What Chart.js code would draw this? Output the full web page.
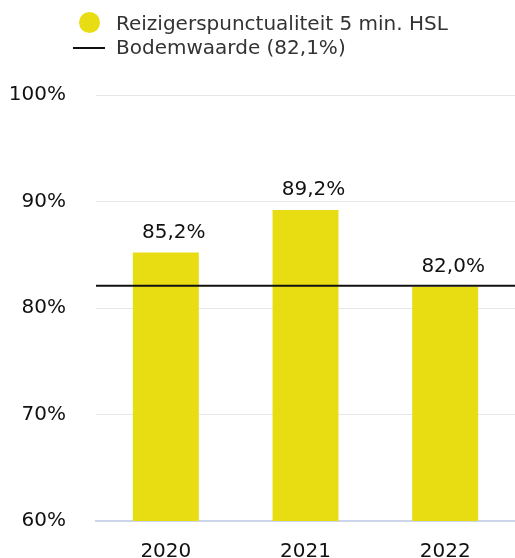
<!DOCTYPE html>
<html><head><meta charset="utf-8">
<script src="https://cdn.jsdelivr.net/npm/chart.js@4.4.0/dist/chart.umd.min.js"></script>
<style>
html,body{margin:0;padding:0;background:#fff;overflow:hidden;}
#wrap{position:relative;width:515px;height:558px;overflow:hidden;}
#c{position:absolute;left:0;top:0;}
.row{position:absolute;left:116px;font-family:"DejaVu Sans";font-size:20px;line-height:24px;color:#333;white-space:nowrap;}
.dot{position:absolute;left:78.5px;top:11.5px;width:21px;height:21px;border-radius:50%;background:#e8dc12;}
.ln{position:absolute;left:73px;top:47px;width:32px;height:2px;background:#111;}
</style></head>
<body>
<div id="wrap">
<canvas id="c" width="515" height="563"></canvas>
<div class="dot"></div><div class="row" id="l1" style="top:11px"></div>
<div class="ln"></div><div class="row" id="l2" style="top:35px"></div>
</div>
<script>
const categories = ['2020', '2021', '2022'];
const punctuality = [85.2, 89.2, 82.0];
const floorValue = 82.1;
const yTicks = [60, 70, 80, 90, 100];
const seriesNames = ['Reizigerspunctualiteit 5 min. HSL', 'Bodemwaarde (82,1%)'];

document.getElementById('l1').textContent = seriesNames[0];
document.getElementById('l2').textContent = seriesNames[1];

const fmt = v => v.toFixed(1).replace('.', ',') + '%';
const FONT = 'DejaVu Sans';

const labelPlugin = {
  id: 'barLabels',
  afterDatasetsDraw(chart) {
    const ctx = chart.ctx;
    const meta = chart.getDatasetMeta(0);
    ctx.save();
    ctx.font = '20px "' + FONT + '"';
    ctx.fillStyle = '#111';
    ctx.textAlign = 'center';
    ctx.textBaseline = 'alphabetic';
    meta.data.forEach((el, i) => {
      ctx.fillText(fmt(punctuality[i]), el.x + 8, el.y - 15);
    });
    ctx.restore();
  }
};

new Chart(document.getElementById('c'), {
  data: {
    labels: categories,
    datasets: [
      {
        type: 'bar',
        label: seriesNames[0],
        data: punctuality,
        backgroundColor: '#e8dc12',
        borderWidth: 0,
        grouped: false,
        categoryPercentage: 1,
        barPercentage: 0.472,
        xAxisID: 'x',
        order: 2
      },
      {
        type: 'line',
        label: seriesNames[1],
        data: [{x: 0, y: floorValue}, {x: 1, y: floorValue}],
        borderColor: '#111',
        borderWidth: 2,
        pointRadius: 0,
        fill: false,
        xAxisID: 'x2',
        order: 1
      }
    ]
  },
  options: {
    responsive: false,
    animation: false,
    events: [],
    layout: {padding: {top: 95, left: 9, right: 0, bottom: 0}},
    plugins: {legend: {display: false}, tooltip: {enabled: false}},
    scales: {
      x: {
        type: 'category',
        offset: true,
        grid: {display: false, drawTicks: false},
        border: {display: true, color: '#ccd6eb', width: 2},
        afterFit: s => { s.height = 37; },
        ticks: {padding: 18.4, color: '#111', font: {family: FONT, size: 20, lineHeight: 1.2}}
      },
      x2: {
        type: 'linear', min: 0, max: 1, display: false
      },
      y: {
        min: 60, max: 100,
        afterBuildTicks: s => { s.ticks = yTicks.map(v => ({value: v})); },
        afterFit: s => { s.width = 87; },
        grid: {color: '#e6e6e6', lineWidth: 1, drawTicks: false},
        border: {display: false},
        ticks: {padding: 30, color: '#111', font: {family: FONT, size: 20}, callback: v => v + '%'}
      }
    }
  },
  plugins: [labelPlugin]
});
</script>
</body></html>
